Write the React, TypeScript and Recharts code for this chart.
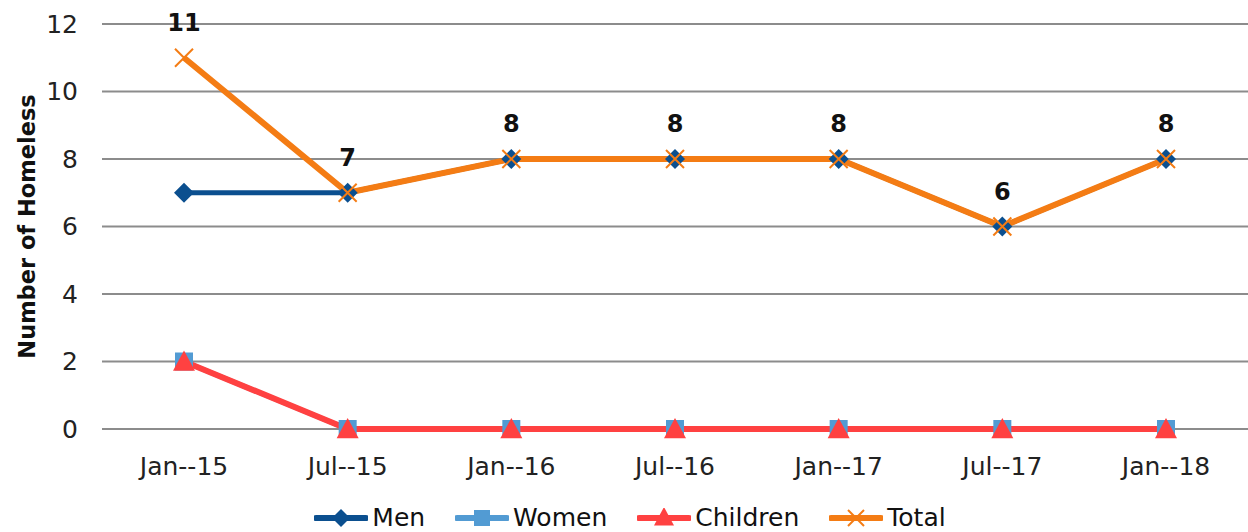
import { CartesianGrid, LabelList, Legend, Line, LineChart, XAxis, YAxis } from "recharts";

const months = ["Jan--15", "Jul--15", "Jan--16", "Jul--16", "Jan--17", "Jul--17", "Jan--18"];
const men = [7, 7, 8, 8, 8, 6, 8];
const women = [2, 0, 0, 0, 0, 0, 0];
const children = [2, 0, 0, 0, 0, 0, 0];
const total = [11, 7, 8, 8, 8, 6, 8];
const yTicks = [0, 2, 4, 6, 8, 10, 12];

const data = months.map((m, i) => ({
  month: m,
  men: men[i],
  women: women[i],
  children: children[i],
  total: total[i],
}));

const FONT = "'DejaVu Sans', sans-serif";
const COLORS = {
  men: "#0b4f8f",
  women: "#529bd3",
  children: "#ff4141",
  total: "#f47c14",
};

function Diamond({ cx, cy, fill, size = 10 }: any) {
  if (cx == null || cy == null) return null;
  return (
    <path
      d={`M${cx},${cy - size} L${cx + size},${cy} L${cx},${cy + size} L${cx - size},${cy} Z`}
      fill={fill}
    />
  );
}

function Square({ cx, cy, fill, size = 9 }: any) {
  if (cx == null || cy == null) return null;
  return <rect x={cx - size} y={cy - size} width={size * 2} height={size * 2} fill={fill} />;
}

function Triangle({ cx, cy, fill, size = 11 }: any) {
  if (cx == null || cy == null) return null;
  return (
    <path
      d={`M${cx},${cy - size} L${cx + size},${cy + size * 0.85} L${cx - size},${cy + size * 0.85} Z`}
      fill={fill}
    />
  );
}

function Cross({ cx, cy, stroke, size = 9 }: any) {
  if (cx == null || cy == null) return null;
  return (
    <path
      d={`M${cx - size},${cy - size} L${cx + size},${cy + size} M${cx + size},${cy - size} L${cx - size},${cy + size}`}
      stroke={stroke}
      strokeWidth={2}
      fill="none"
    />
  );
}

function TotalLabel({ x, y, value }: any) {
  return (
    <text
      x={x}
      y={y - 27}
      textAnchor="middle"
      fontFamily={FONT}
      fontSize={24}
      fontWeight="bold"
      fill="#111"
    >
      {value}
    </text>
  );
}

const legendItems = [
  { key: "men", label: "Men" },
  { key: "women", label: "Women" },
  { key: "children", label: "Children" },
  { key: "total", label: "Total" },
];

function LegendSymbol({ k }: { k: string }) {
  const c = (COLORS as any)[k];
  return (
    <svg width={54} height={20} style={{ display: "block" }}>
      <line x1={2} y1={10} x2={52} y2={10} stroke={c} strokeWidth={6} strokeLinecap="round" />
      {k === "men" && <Diamond cx={27} cy={10} fill={c} size={9} />}
      {k === "women" && <Square cx={27} cy={10} fill={c} size={8} />}
      {k === "children" && <Triangle cx={27} cy={9} fill={c} size={10} />}
      {k === "total" && <Cross cx={27} cy={10} stroke={c} size={8} />}
    </svg>
  );
}

function ChartLegend() {
  return (
    <div
      style={{
        width: 1248,
        height: 43,
        display: "flex",
        justifyContent: "center",
        alignItems: "flex-end",
        gap: 30,
        fontFamily: FONT,
        fontSize: 25,
        color: "#111",
        paddingLeft: 12,
        boxSizing: "border-box",
      }}
    >
      {legendItems.map((it) => (
        <div key={it.key} style={{ display: "flex", alignItems: "center", gap: 4, lineHeight: "30px", marginBottom: -1 }}>
          <LegendSymbol k={it.key} />
          <span>{it.label}</span>
        </div>
      ))}
    </div>
  );
}

export default function App() {
  return (
    <div style={{ position: "absolute", left: 0, top: 0, width: 1248, height: 532, background: "#fff", overflow: "hidden" }}>
      <LineChart width={1248} height={532} data={data} margin={{ top: 24, right: 0, left: 0, bottom: 0 }}>
        <CartesianGrid vertical={false} stroke="#8c8c8c" strokeWidth={2} />
        <XAxis
          dataKey="month"
          height={60}
          padding={{ left: 82, right: 82 }}
          tickLine={false}
          axisLine={false}
          tickMargin={22}
          tick={{ fontFamily: FONT, fontSize: 25, fill: "#222" }}
        />
        <YAxis
          width={102}
          domain={[0, 12]}
          ticks={yTicks}
          interval={0}
          tickLine={false}
          axisLine={false}
          tickMargin={18}
          tick={{ fontFamily: FONT, fontSize: 25, fill: "#222" }}
          label={{
            value: "Number of Homeless",
            angle: -90,
            position: "insideLeft",
            dx: 22,
            dy: 0,
            style: { fontFamily: FONT, fontSize: 22.5, fontWeight: "bold", fill: "#111", textAnchor: "middle" },
          }}
        />
        <Legend verticalAlign="bottom" height={43} content={() => <ChartLegend />} />
        <Line
          dataKey="men"
          stroke={COLORS.men}
          strokeWidth={5}
          dot={<Diamond fill={COLORS.men} />}
          isAnimationActive={false}
        />
        <Line
          dataKey="women"
          stroke={COLORS.women}
          strokeWidth={5}
          dot={<Square fill={COLORS.women} />}
          isAnimationActive={false}
        />
        <Line
          dataKey="children"
          stroke={COLORS.children}
          strokeWidth={6}
          dot={<Triangle fill={COLORS.children} />}
          isAnimationActive={false}
        />
        <Line
          dataKey="total"
          stroke={COLORS.total}
          strokeWidth={6}
          dot={<Cross stroke={COLORS.total} />}
          isAnimationActive={false}
        >
          <LabelList dataKey="total" content={<TotalLabel />} />
        </Line>
      </LineChart>
    </div>
  );
}
